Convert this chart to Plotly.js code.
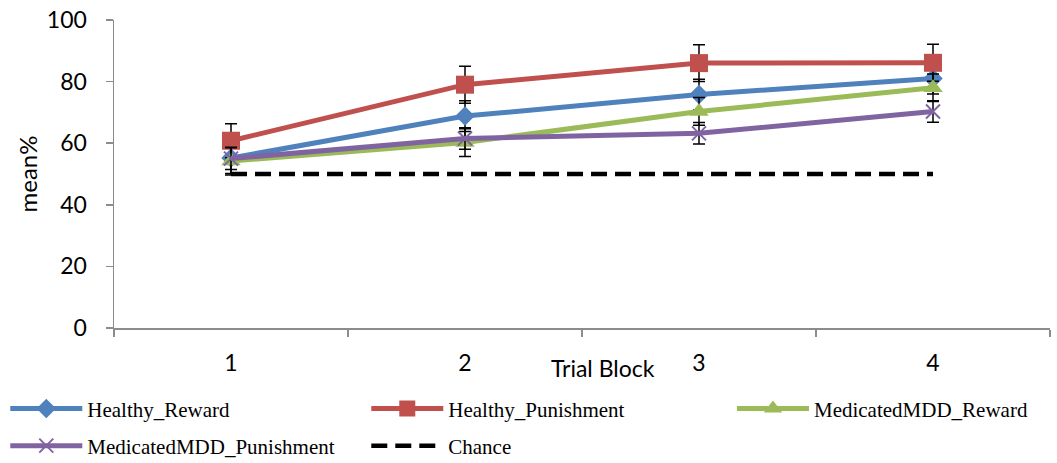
<!DOCTYPE html>
<html>
<head>
<meta charset="utf-8">
<script src="https://cdn.plot.ly/plotly-3.0.1.min.js"></script>
<style>html,body{margin:0;padding:0;background:#fff;}#chart{width:1057px;height:463px;}</style>
</head>
<body>
<div id="chart"></div>
<script>
const blocks = ['1', '2', '3', '4'];
const healthyReward = [55.2, 68.8, 75.8, 81.0];
const healthyRewardErr = [5, 5, 5, 5];
const healthyPunishment = [60.8, 79.0, 86.0, 86.1];
const healthyPunishmentErr = [5.5, 6, 6, 6];
const mddReward = [54.2, 60.2, 70.3, 78.0];
const mddRewardErr = [4.5, 4.5, 4.5, 4.5];
const mddPunishment = [55.0, 61.5, 63.2, 70.3];
const mddPunishmentErr = [3.5, 3.5, 3.5, 3.5];
const chance = [50, 50, 50, 50];
const seriesNames = ['Healthy_Reward', 'Healthy_Punishment', 'MedicatedMDD_Reward', 'MedicatedMDD_Punishment', 'Chance'];

function errSpec(arr) {
  return {type: 'data', array: arr, visible: true, color: '#000000', thickness: 1.5, width: 6};
}

const traces = [
  {x: blocks, y: healthyReward, name: seriesNames[0], type: 'scatter', mode: 'lines+markers', legend: 'legend',
   line: {color: '#4F81BD', width: 5}, marker: {symbol: 'diamond', size: 15, color: '#4F81BD'},
   error_y: errSpec(healthyRewardErr)},
  {x: blocks, y: healthyPunishment, name: seriesNames[1], type: 'scatter', mode: 'lines+markers', legend: 'legend',
   line: {color: '#C0504D', width: 5}, marker: {symbol: 'square', size: 18, color: '#C0504D'},
   error_y: errSpec(healthyPunishmentErr)},
  {x: blocks, y: mddReward, name: seriesNames[2], type: 'scatter', mode: 'lines+markers', legend: 'legend3',
   line: {color: '#9BBB59', width: 5}, marker: {symbol: 'triangle-up', size: 17, color: '#9BBB59'},
   error_y: errSpec(mddRewardErr)},
  {x: blocks, y: mddPunishment, name: seriesNames[3], type: 'scatter', mode: 'lines+markers', legend: 'legend2',
   line: {color: '#8064A2', width: 5}, marker: {symbol: 'x-thin', size: 14, color: '#8064A2', line: {color: '#8064A2', width: 2}},
   error_y: errSpec(mddPunishmentErr)},
  {x: blocks, y: chance, name: seriesNames[4], type: 'scatter', mode: 'lines', legend: 'legend2',
   line: {color: '#000000', width: 4.5, dash: '16px,8px'}}
];

const legendFont = {family: '"Liberation Serif", "Times New Roman", serif', size: 21, color: '#000000'};
const tickFont = {family: 'Lato, sans-serif', size: 23, color: '#000000'};

function legendSpec(x, y) {
  return {
    orientation: 'h', xref: 'container', yref: 'container', x: x, y: y,
    xanchor: 'left', yanchor: 'top',
    entrywidth: 274, entrywidthmode: 'pixels',
    font: legendFont, bgcolor: 'rgba(0,0,0,0)', itemwidth: 72
  };
}

const layout = {
  width: 1057, height: 463,
  margin: {l: 114, r: 7, t: 20, b: 135},
  paper_bgcolor: '#ffffff', plot_bgcolor: '#ffffff',
  showlegend: true,
  font: {family: 'Lato, sans-serif', color: '#000000'},
  xaxis: {
    type: 'category', range: [-0.5, 3.5], tickson: 'boundaries',
    showline: true, linecolor: '#8c8c8c', linewidth: 1.5,
    ticks: 'outside', ticklen: 7, tickcolor: '#8c8c8c', tickwidth: 1.5,
    showgrid: false, zeroline: false,
    tickfont: tickFont,
    ticklabelstandoff: 14
  },
  yaxis: {
    range: [0, 100], dtick: 20, tick0: 0,
    showline: true, linecolor: '#8c8c8c', linewidth: 1.5,
    ticks: 'outside', ticklen: 7, tickcolor: '#8c8c8c', tickwidth: 1.5,
    showgrid: false, zeroline: false,
    tickfont: tickFont,
    ticklabelstandoff: 14,
    title: {text: 'mean%', font: {family: 'Lato, sans-serif', size: 24, color: '#000000'}, standoff: 2}
  },
  annotations: [
    {text: 'Trial Block', xref: 'paper', yref: 'paper', x: 0.522, y: -0.13, xanchor: 'center', yanchor: 'middle',
     showarrow: false, font: {family: 'Lato, sans-serif', size: 23, color: '#000000'}}
  ],
  legend: legendSpec(0.005, 0.161),
  legend3: legendSpec(0.6925, 0.161),
  legend2: legendSpec(0.005, 0.081)
};

Plotly.newPlot('chart', traces, layout, {displayModeBar: false, staticPlot: true});
</script>
</body>
</html>
